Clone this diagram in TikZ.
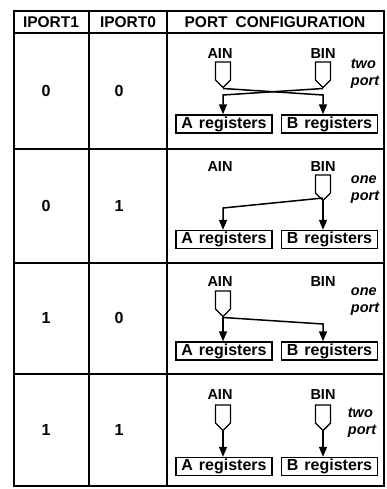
\documentclass[tikz,border=0pt]{standalone}
\usepackage{fontspec}
\setmainfont{Liberation Sans}
\usetikzlibrary{arrows.meta,positioning,shapes.symbols}

\begin{document}
\begin{tikzpicture}[x=1pt,y=-1pt,
    every node/.style={font=\bfseries\fontsize{16}{19}\selectfont},
    head/.style={font=\bfseries\fontsize{15.5}{18}\selectfont},
    grid/.style={line width=1.8pt},
    reg/.style={draw,line width=1.4pt,minimum width=96pt,minimum height=18pt,inner sep=0pt,font=\bfseries\fontsize{16}{18}\selectfont},
    inport/.style={draw,line width=1.4pt,shape=signal,signal to=south,minimum width=15pt,minimum height=18pt,inner sep=0pt},
    lbl/.style={font=\bfseries\fontsize{14.5}{16}\selectfont},
    mode/.style={font=\bfseries\itshape\fontsize{14.5}{17}\selectfont,align=left},
    arr/.style={line width=1.5pt,-{Triangle[length=10pt,width=8pt]}}]
  \useasboundingbox (0,0) rectangle (386,489);
  % table
  \draw[grid] (14,11) rectangle (384,486);
  \draw[grid] (14,33) -- (384,33);
  \foreach \ly in {149,263,374} \draw[grid] (14,\ly) -- (384,\ly);
  \draw[grid] (89,11) -- (89,486);
  \draw[grid] (167,11) -- (167,486);
  \node[head] (h1) at (51,22) {IPORT1};
  \node[head] (h0) at (128,22) {IPORT0};
  \node[head] (hcfg) at (275,22) {PORT\hspace{8pt}CONFIGURATION};
  \foreach \n/\y/\a/\b in {1/91/0/0,2/206/0/1,3/318/1/0,4/430/1/1} {
    \node (ipa\n) at (46,\y) {\a};
    \node (ipb\n) at (119,\y) {\b};
  }
  % registers and input labels
  \foreach \n/\y/\ly in {1/124/54,2/239.5/167,3/351/282,4/466.5/395} {
    \node[reg] (ra\n) at (224,\y) {A\hspace{6pt}registers};
    \node[reg] (rb\n) at (329.5,\y) {B\hspace{6pt}registers};
    \node[lbl] (ain\n) at (220,\ly) {AIN};
    \node[lbl] (bin\n) at (323,\ly) {BIN};
  }
  \node[mode] (m1) at (365,74) {two\\port};
  \node[mode] (m2) at (365,190) {one\\port};
  \node[mode] (m3) at (365,302) {one\\port};
  \node[mode] (m4) at (362,423) {two\\port};
  % input ports
  \node[inport] (pa1) at (223,71) {};
  \node[inport] (pb1) at (323,71) {};
  \node[inport] (pb2) at (323,184) {};
  \node[inport] (pa3) at (223,300) {};
  \node[inport] (pa4) at (223,414) {};
  \node[inport] (pb4) at (323,414) {};
  % two port, crossed
  \coordinate (x1a) at (323,95);
  \coordinate (x1b) at (223,95);
  \draw[arr] (pa1.south) -- (x1a) -- (x1a |- rb1.north);
  \draw[arr] (pb1.south) -- (x1b) -- (x1b |- ra1.north);
  % one port, BIN
  \coordinate (j2) at (323,198);
  \coordinate (k2) at (223,208);
  \draw[arr] (pb2.south) -- (pb2.south |- rb2.north);
  \draw[arr] (j2) -- (k2) -- (k2 |- ra2.north);
  % one port, AIN
  \coordinate (k3) at (323,324);
  \draw[arr] (pa3.south) -- (pa3.south |- ra3.north);
  \draw[arr] (pa3.south) -- (k3) -- (k3 |- rb3.north);
  % two port, straight
  \draw[arr] (pa4.south) -- (pa4.south |- ra4.north);
  \draw[arr] (pb4.south) -- (pb4.south |- rb4.north);
\end{tikzpicture}
\end{document}
